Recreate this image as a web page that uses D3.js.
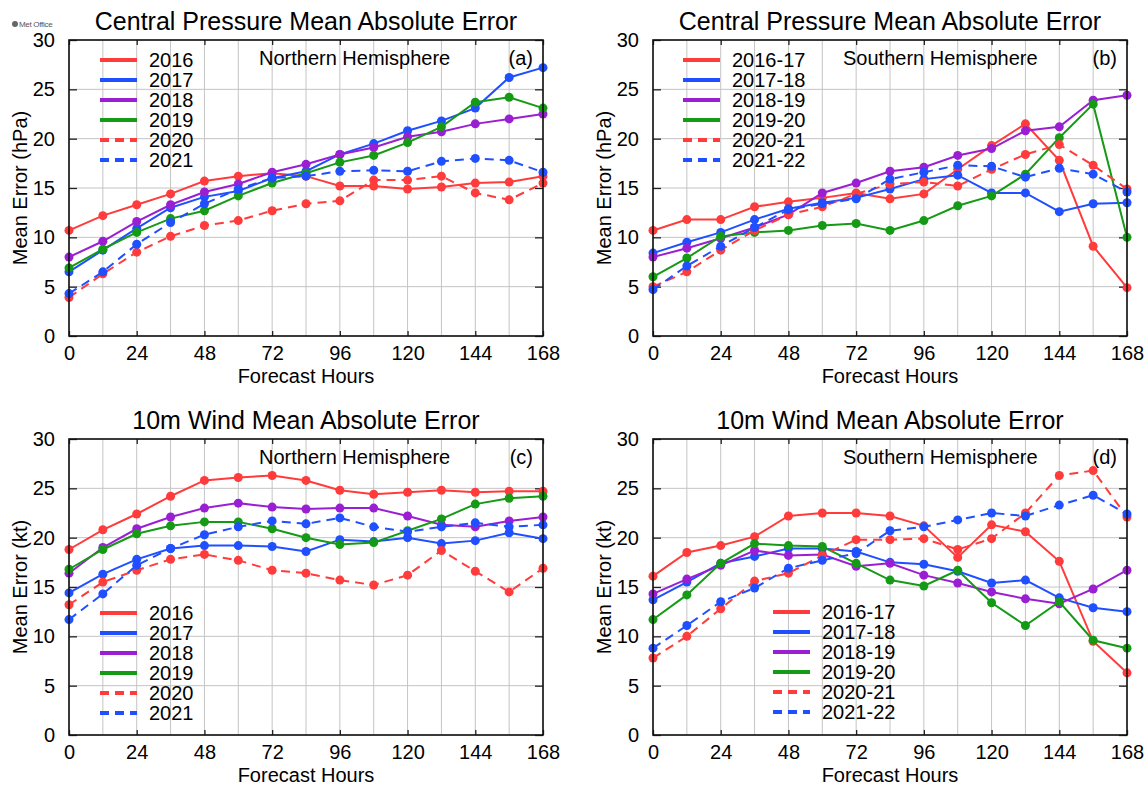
<!DOCTYPE html>
<html>
<head>
<meta charset="utf-8">
<script src="https://cdn.jsdelivr.net/npm/d3@7/dist/d3.min.js"></script>
<style>
  body { margin: 0; background: #fff; }
  text { font-family: "Liberation Sans", Arial, Helvetica, sans-serif; fill: #000; }
</style>
</head>
<body>
<svg id="chart" width="1148" height="788"></svg>
<script>
// ---------- data ----------
const hours = [0, 12, 24, 36, 48, 60, 72, 84, 96, 108, 120, 132, 144, 156, 168];
const xTicks = [0, 24, 48, 72, 96, 120, 144, 168];
const yTicks = [0, 5, 10, 15, 20, 25, 30];
const nhYears = ["2016", "2017", "2018", "2019", "2020", "2021"];
const shYears = ["2016-17", "2017-18", "2018-19", "2019-20", "2020-21", "2021-22"];

// (a) central pressure, northern hemisphere
const pressNH2016 = [10.7, 12.2, 13.3, 14.4, 15.7, 16.2, 16.5, 16.2, 15.2, 15.2, 14.9, 15.1, 15.5, 15.6, 16.2];
const pressNH2017 = [6.5, 8.7, 10.9, 13.0, 14.1, 14.7, 16.0, 16.7, 18.4, 19.5, 20.8, 21.8, 23.1, 26.2, 27.2];
const pressNH2018 = [8.0, 9.6, 11.6, 13.3, 14.6, 15.4, 16.6, 17.4, 18.4, 19.1, 20.2, 20.7, 21.5, 22.0, 22.5];
const pressNH2019 = [6.9, 8.8, 10.5, 11.9, 12.7, 14.2, 15.5, 16.5, 17.6, 18.3, 19.6, 21.2, 23.7, 24.2, 23.1];
const pressNH2020 = [3.9, 6.3, 8.5, 10.1, 11.2, 11.7, 12.7, 13.4, 13.7, 15.8, 15.8, 16.2, 14.5, 13.8, 15.5];
const pressNH2021 = [4.3, 6.5, 9.3, 11.5, 13.4, 14.9, 16.0, 16.2, 16.7, 16.8, 16.7, 17.7, 18.0, 17.8, 16.6];

// (b) central pressure, southern hemisphere
const pressSH1617 = [10.7, 11.8, 11.8, 13.1, 13.6, 14.0, 14.5, 13.9, 14.4, 16.9, 19.3, 21.5, 17.8, 9.1, 4.9];
const pressSH1718 = [8.4, 9.5, 10.5, 11.8, 12.9, 13.5, 14.0, 14.9, 15.9, 16.3, 14.5, 14.5, 12.6, 13.4, 13.5];
const pressSH1819 = [8.0, 8.9, 9.9, 11.0, 12.3, 14.5, 15.5, 16.7, 17.1, 18.3, 19.0, 20.8, 21.2, 23.9, 24.4];
const pressSH1920 = [6.0, 7.9, 10.1, 10.5, 10.7, 11.2, 11.4, 10.7, 11.7, 13.2, 14.2, 16.4, 20.1, 23.5, 10.0];
const pressSH2021 = [5.0, 6.5, 8.7, 10.7, 12.3, 13.1, 14.4, 15.4, 15.6, 15.2, 16.9, 18.4, 19.4, 17.3, 14.9];
const pressSH2122 = [4.7, 7.1, 9.1, 11.0, 12.8, 13.4, 13.9, 15.9, 16.6, 17.3, 17.2, 16.1, 17.0, 16.4, 14.6];

// (c) 10m wind, northern hemisphere
const windNH2016 = [18.8, 20.8, 22.4, 24.2, 25.8, 26.1, 26.3, 25.8, 24.8, 24.4, 24.6, 24.8, 24.6, 24.7, 24.7];
const windNH2017 = [14.4, 16.3, 17.8, 18.9, 19.2, 19.2, 19.1, 18.6, 19.8, 19.6, 20.0, 19.4, 19.7, 20.5, 19.9];
const windNH2018 = [16.4, 19.0, 20.9, 22.1, 23.0, 23.5, 23.1, 22.9, 23.0, 23.0, 22.2, 21.3, 21.1, 21.7, 22.1];
const windNH2019 = [16.8, 18.8, 20.4, 21.2, 21.6, 21.6, 20.9, 20.0, 19.3, 19.5, 20.7, 21.9, 23.4, 24.0, 24.2];
const windNH2020 = [13.2, 15.5, 16.7, 17.8, 18.3, 17.7, 16.7, 16.4, 15.7, 15.2, 16.2, 18.7, 16.6, 14.5, 16.9];
const windNH2021 = [11.7, 14.3, 17.2, 18.9, 20.3, 21.1, 21.7, 21.4, 22.0, 21.1, 20.6, 21.1, 21.5, 21.1, 21.3];

// (d) 10m wind, southern hemisphere
const windSH1617 = [16.1, 18.5, 19.2, 20.1, 22.2, 22.5, 22.5, 22.2, 21.2, 18.0, 21.3, 20.6, 17.6, 9.5, 6.3];
const windSH1718 = [13.7, 15.5, 17.4, 18.1, 18.9, 18.9, 18.6, 17.5, 17.3, 16.6, 15.4, 15.7, 13.9, 12.9, 12.5];
const windSH1819 = [14.3, 15.8, 17.2, 18.7, 18.2, 18.3, 17.1, 17.4, 16.2, 15.4, 14.5, 13.8, 13.3, 14.8, 16.7];
const windSH1920 = [11.7, 14.2, 17.4, 19.4, 19.2, 19.1, 17.4, 15.7, 15.1, 16.7, 13.4, 11.1, 13.5, 9.6, 8.8];
const windSH2021 = [7.8, 10.0, 12.8, 15.6, 16.4, 18.2, 19.8, 19.8, 19.9, 18.8, 19.9, 22.5, 26.3, 26.8, 22.1];
const windSH2122 = [8.8, 11.1, 13.5, 14.9, 16.9, 17.7, 18.4, 20.7, 21.1, 21.8, 22.5, 22.2, 23.3, 24.3, 22.4];

const lineColors = ["#ff3b3b", "#1f4fff", "#9b1fd2", "#159a15", "#ff3b3b", "#1f4fff"];
const lineDashed = [false, false, false, false, true, true];

const panels = [
  { left: 69, top: 40, title: "Central Pressure Mean Absolute Error", ylabel: "Mean Error (hPa)",
    region: "Northern Hemisphere", tag: "(a)", names: nhYears, legend: [100, 60],
    series: [pressNH2016, pressNH2017, pressNH2018, pressNH2019, pressNH2020, pressNH2021] },
  { left: 653, top: 40, title: "Central Pressure Mean Absolute Error", ylabel: "Mean Error (hPa)",
    region: "Southern Hemisphere", tag: "(b)", names: shYears, legend: [683, 60],
    series: [pressSH1617, pressSH1718, pressSH1819, pressSH1920, pressSH2021, pressSH2122] },
  { left: 69, top: 439, title: "10m Wind Mean Absolute Error", ylabel: "Mean Error (kt)",
    region: "Northern Hemisphere", tag: "(c)", names: nhYears, legend: [100, 613],
    series: [windNH2016, windNH2017, windNH2018, windNH2019, windNH2020, windNH2021] },
  { left: 653, top: 439, title: "10m Wind Mean Absolute Error", ylabel: "Mean Error (kt)",
    region: "Southern Hemisphere", tag: "(d)", names: shYears, legend: [773, 612],
    series: [windSH1617, windSH1718, windSH1819, windSH1920, windSH2021, windSH2122] }
];

const W = 474, H = 296;
const svg = d3.select("#chart");

// small logo top left
const logo = svg.append("g").attr("transform", "translate(12,27)");
logo.append("circle").attr("cx", 3).attr("cy", -3).attr("r", 3).attr("fill", "#666");
logo.append("text").attr("x", 7).attr("y", 0).style("font-size", "8px").style("fill", "#555")
  .style("letter-spacing", "-0.3px").text("Met Office");

panels.forEach(p => {
  const x = d3.scaleLinear().domain([0, 168]).range([p.left, p.left + W]);
  const y = d3.scaleLinear().domain([0, 30]).range([p.top + H, p.top]);
  const g = svg.append("g");

  // grid
  g.append("g").selectAll("line").data(hours).join("line")
    .attr("x1", d => x(d)).attr("x2", d => x(d))
    .attr("y1", p.top).attr("y2", p.top + H)
    .attr("stroke", "#c4c4c4").attr("stroke-width", 1);
  g.append("g").selectAll("line").data(yTicks).join("line")
    .attr("x1", p.left).attr("x2", p.left + W)
    .attr("y1", d => y(d)).attr("y2", d => y(d))
    .attr("stroke", "#c4c4c4").attr("stroke-width", 1);

  // axes with inward ticks
  g.append("g").attr("transform", `translate(0,${p.top + H})`)
    .call(d3.axisBottom(x).tickValues(xTicks).tickSize(-5).tickPadding(10))
    .call(a => a.select(".domain").remove());
  g.append("g").attr("transform", `translate(0,${p.top})`)
    .call(d3.axisTop(x).tickValues(xTicks).tickSize(-5).tickFormat(""))
    .call(a => a.select(".domain").remove());
  g.append("g").attr("transform", `translate(${p.left},0)`)
    .call(d3.axisLeft(y).tickValues(yTicks).tickSize(-8).tickPadding(14))
    .call(a => a.select(".domain").remove());
  g.append("g").attr("transform", `translate(${p.left + W},0)`)
    .call(d3.axisRight(y).tickValues(yTicks).tickSize(-8).tickFormat(""))
    .call(a => a.select(".domain").remove());
  g.selectAll(".tick line").attr("stroke", "#222").attr("stroke-width", 1.3);
  g.selectAll(".tick text").style("font-size", "20px").style("font-family", "Liberation Sans, Arial, sans-serif").attr("fill", "#000");

  // series
  const line = d3.line().x((d, i) => x(hours[i])).y(d => y(d));
  p.series.forEach((vals, k) => {
    g.append("path").datum(vals)
      .attr("d", line).attr("fill", "none")
      .attr("stroke", lineColors[k]).attr("stroke-width", 2)
      .attr("stroke-dasharray", lineDashed[k] ? "9,6" : null);
    g.append("g").selectAll("circle").data(vals).join("circle")
      .attr("cx", (d, i) => x(hours[i])).attr("cy", d => y(d))
      .attr("r", 4.5).attr("fill", lineColors[k]);
  });

  // frame
  g.append("rect").attr("x", p.left).attr("y", p.top).attr("width", W).attr("height", H)
    .attr("fill", "none").attr("stroke", "#111").attr("stroke-width", 1.6);

  // texts
  g.append("text").attr("x", p.left + W / 2).attr("y", p.top - 10).attr("text-anchor", "middle")
    .style("font-size", "25px").text(p.title);
  g.append("text").attr("x", p.left + W / 2).attr("y", p.top + H + 47).attr("text-anchor", "middle")
    .style("font-size", "20px").text("Forecast Hours");
  g.append("text").attr("transform", `translate(${p.left - 42},${p.top + H / 2}) rotate(-90)`)
    .attr("text-anchor", "middle").style("font-size", "20px").text(p.ylabel);
  g.append("text").attr("x", p.left + 190).attr("y", p.top + 25)
    .style("font-size", "20px").text(p.region);
  g.append("text").attr("x", p.left + W - 10).attr("y", p.top + 25).attr("text-anchor", "end")
    .style("font-size", "20px").text(p.tag);

  // legend
  const lg = g.append("g");
  p.names.forEach((name, k) => {
    const ly = p.legend[1] + k * 20;
    lg.append("line").attr("x1", p.legend[0]).attr("x2", p.legend[0] + 37)
      .attr("y1", ly).attr("y2", ly)
      .attr("stroke", lineColors[k]).attr("stroke-width", 4)
      .attr("stroke-dasharray", lineDashed[k] ? "9,6" : null);
    lg.append("text").attr("x", p.legend[0] + 49).attr("y", ly + 7)
      .style("font-size", "20px").text(name);
  });
});
</script>
</body>
</html>
